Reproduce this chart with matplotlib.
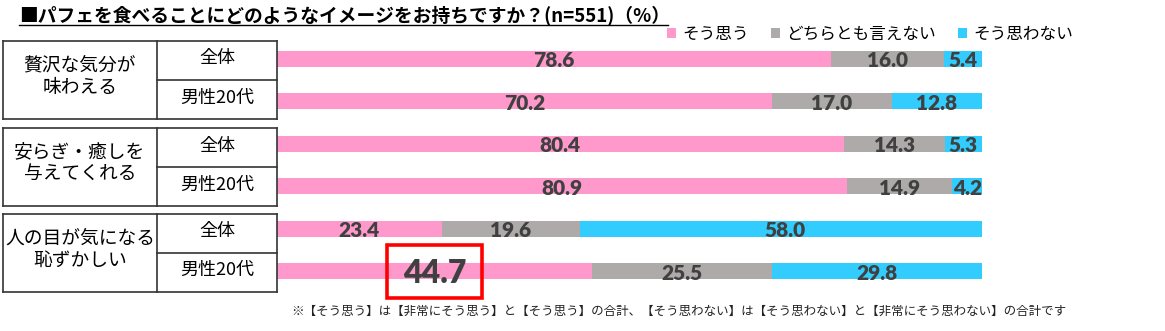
import matplotlib
matplotlib.use("Agg")
import matplotlib.pyplot as plt
from matplotlib.lines import Line2D
from matplotlib.patches import Rectangle

plt.rcParams["font.family"] = ["Noto Sans CJK JP", "DejaVu Sans"]

title = "■パフェを食べることにどのようなイメージをお持ちですか？(n=551)（%）"
note = ("※【そう思う】は【非常にそう思う】と【そう思う】の合計、"
        "【そう思わない】は【そう思わない】と【非常にそう思わない】の合計です")
series_names = ["そう思う", "どちらとも言えない", "そう思わない"]
group_labels = ["贅沢な気分が\n味わえる",
                "安らぎ・癒しを\n与えてくれる",
                "人の目が気になる\n恥ずかしい"]
row_labels = ["全体", "男性20代"]
agree = [78.6, 70.2, 80.4, 80.9, 23.4, 44.7]
neutral = [16.0, 17.0, 14.3, 14.9, 19.6, 25.5]
disagree = [5.4, 12.8, 5.3, 4.2, 58.0, 29.8]
highlight = (0, 5)  # (series, row) boxed in red

colors = ["#FF99CC", "#AEAAAA", "#33CCFF"]
W, H = 1165, 331


def fx(x):
    return x / W


def fy(y):
    return 1 - y / H


fig = plt.figure(figsize=(W / 100, H / 100), dpi=100)
ax = fig.add_axes([fx(277), fy(292.5), 705 / W, 255 / H])
ax.set_xlim(0, 100)
ax.set_ylim(5.5, -0.5)
ax.axis("off")

rows = list(range(len(agree)))
left = [0] * len(rows)
bars = []
for name, vals, col in zip(series_names, [agree, neutral, disagree], colors):
    b = ax.barh(rows, vals, left=left, height=0.376, color=col,
                label=name, linewidth=0)
    bars.append(b)
    for r, v, l in zip(rows, vals, left):
        big = (series_names.index(name), r) == highlight
        ax.annotate(f"{v:.1f}", (l + v / 2, r), xytext=(0, -2),
                    textcoords="offset pixels", ha="center", va="center",
                    fontsize=23 if big else 15, fontweight="heavy",
                    family=["Lato", "DejaVu Sans"], color="#404040")
    left = [a + b_ for a, b_ in zip(left, vals)]

# red box around highlighted value
hs, hr = highlight
hv = [agree, neutral, disagree][hs]
hl = sum([agree, neutral, disagree][k][hr] for k in range(hs))
ax.add_patch(Rectangle((hl + hv[hr] / 2 - 6.7, hr - 0.62), 13.4, 1.25,
                       fill=False, edgecolor="#FF0000", linewidth=2.6,
                       clip_on=False))

# title with underline
fig.text(fx(19), fy(16), title, fontsize=13.5, fontweight="bold",
         va="center", ha="left", color="#000000")
fig.add_artist(Line2D([fx(19), fx(668)], [fy(25), fy(25)],
                      color="#000000", lw=1.0))

# legend
fig.legend(handles=bars, labels=series_names, loc="center",
           bbox_to_anchor=(fx(870), fy(34)), bbox_transform=fig.transFigure,
           ncol=3, frameon=False, fontsize=12, handlelength=0.55,
           handleheight=0.55, handletextpad=0.4, columnspacing=1.3,
           borderpad=0)

# table on the left
tops = [40.7, 128.3, 214]
mids = [80, 167.3, 252.7]
bots = [119, 206, 292]
x0, x1, x2 = 3, 157, 277
lc = "#333333"
for g, (t, m, b) in enumerate(zip(tops, mids, bots)):
    for xs, ys in [([x0, x2], [t, t]), ([x0, x2], [b, b]),
                   ([x0, x0], [t, b]), ([x2, x2], [t, b]),
                   ([x1, x1], [t, b]), ([x1, x2], [m, m])]:
        fig.add_artist(Line2D([fx(v) for v in xs], [fy(v) for v in ys],
                              color=lc, lw=1.2))
    fig.text(fx((x0 + x1) / 2), fy((t + b) / 2 - 4), group_labels[g],
             fontsize=13.5, ha="center", va="center", linespacing=1.1)
    fig.text(fx((x1 + x2) / 2), fy((t + m) / 2 - 2), row_labels[0],
             fontsize=13, ha="center", va="center")
    fig.text(fx((x1 + x2) / 2), fy((m + b) / 2 - 2), row_labels[1],
             fontsize=13, ha="center", va="center")

fig.text(fx(679), fy(311), note, fontsize=9, ha="center", va="center",
         color="#222222")

fig.savefig("out.png", dpi=100)
